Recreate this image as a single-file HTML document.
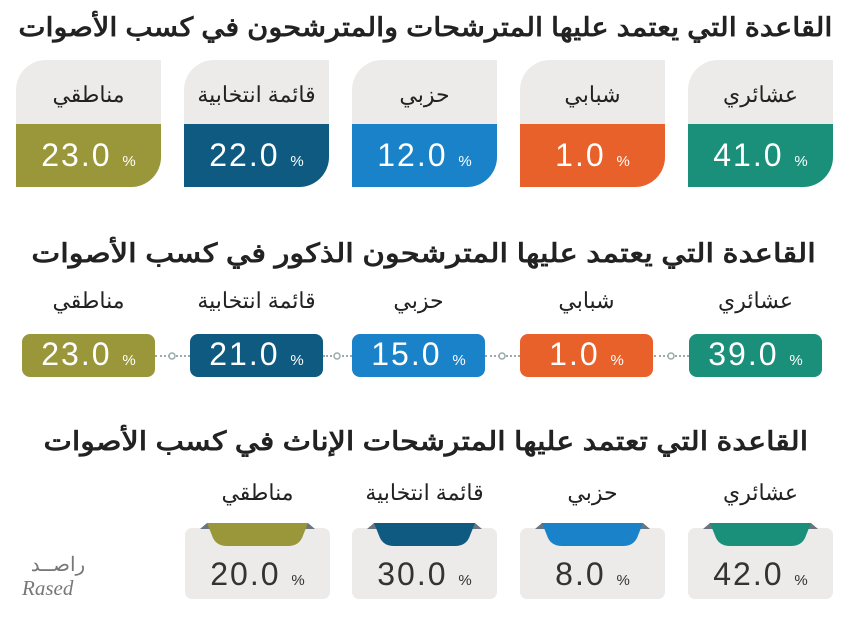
<!DOCTYPE html>
<html><head><meta charset="utf-8"><style>
body{margin:0;width:850px;height:632px;background:#fff;position:relative;overflow:hidden;font-family:"Liberation Sans","Noto Sans CJK SC",sans-serif;}
.a{position:absolute}
.t{position:absolute;font-weight:bold;color:#222;font-size:26px;direction:rtl;white-space:nowrap;transform-origin:right center;font-family:"Liberation Sans","Noto Sans CJK SC",sans-serif}
.lab{position:absolute;text-align:center;font-size:22px;color:#222;direction:rtl;white-space:nowrap}
.val{position:absolute;text-align:center;font-size:32px;color:#fff;font-weight:300;letter-spacing:2px}
.val small{font-size:15px;letter-spacing:0}
.c1{position:absolute;width:145px;height:127px;top:60px;border-radius:30px 0 30px 0;overflow:hidden;background:#ecebe9}
.c1 .b{position:absolute;left:0;right:0;top:64px;bottom:0}
.p{position:absolute;top:334px;height:43px;width:133px;border-radius:8px}
.g{position:absolute;top:528px;height:71px;width:145px;border-radius:7px;background:#ecebe9}
.dots{position:absolute;top:355px;height:0;border-top:2px dotted #9aa;}
</style></head><body>
<div class="t" style="right:18px;top:12px;transform:scaleX(1.11)">القاعدة التي يعتمد عليها المترشحات والمترشحون في كسب الأصوات</div>

<div class="c1" style="left:16px"><div class="b" style="background:#9a963a"></div></div>
<div class="c1" style="left:184px"><div class="b" style="background:#0e5a80"></div></div>
<div class="c1" style="left:352px"><div class="b" style="background:#1a82c8"></div></div>
<div class="c1" style="left:520px"><div class="b" style="background:#e8602a"></div></div>
<div class="c1" style="left:688px"><div class="b" style="background:#1a8f7a"></div></div>
<div class="lab" style="left:16px;width:145px;top:82px">مناطقي</div>
<div class="lab" style="left:184px;width:145px;top:82px">قائمة انتخابية</div>
<div class="lab" style="left:352px;width:145px;top:82px">حزبي</div>
<div class="lab" style="left:520px;width:145px;top:82px">شبابي</div>
<div class="lab" style="left:688px;width:145px;top:82px">عشائري</div>
<div class="val" style="left:16px;width:145px;top:137px">23.0 <small>%</small></div>
<div class="val" style="left:184px;width:145px;top:137px">22.0 <small>%</small></div>
<div class="val" style="left:352px;width:145px;top:137px">12.0 <small>%</small></div>
<div class="val" style="left:520px;width:145px;top:137px">1.0 <small>%</small></div>
<div class="val" style="left:688px;width:145px;top:137px">41.0 <small>%</small></div>

<div class="t" style="right:34px;top:238px;transform:scaleX(1.18)">القاعدة التي يعتمد عليها المترشحون الذكور في كسب الأصوات</div>
<div class="lab" style="left:22px;width:133px;top:288px">مناطقي</div>
<div class="lab" style="left:190px;width:133px;top:288px">قائمة انتخابية</div>
<div class="lab" style="left:352px;width:133px;top:288px">حزبي</div>
<div class="lab" style="left:520px;width:133px;top:288px">شبابي</div>
<div class="lab" style="left:689px;width:133px;top:288px">عشائري</div>
<div class="dots" style="left:155px;width:35px"></div>
<div class="dots" style="left:323px;width:29px"></div>
<div class="dots" style="left:485px;width:35px"></div>
<div class="dots" style="left:654px;width:35px"></div>
<div class="p" style="left:22px;background:#9a963a"></div>
<div class="p" style="left:190px;background:#0e5a80"></div>
<div class="p" style="left:352px;background:#1a82c8"></div>
<div class="p" style="left:520px;background:#e8602a"></div>
<div class="p" style="left:689px;background:#1a8f7a"></div>
<div class="val" style="left:22px;width:133px;top:336px">23.0 <small>%</small></div>
<div class="val" style="left:190px;width:133px;top:336px">21.0 <small>%</small></div>
<div class="val" style="left:352px;width:133px;top:336px">15.0 <small>%</small></div>
<div class="val" style="left:520px;width:133px;top:336px">1.0 <small>%</small></div>
<div class="val" style="left:689px;width:133px;top:336px">39.0 <small>%</small></div>

<div class="t" style="right:42px;top:426px;transform:scaleX(1.16)">القاعدة التي تعتمد عليها المترشحات الإناث في كسب الأصوات</div>
<div class="lab" style="left:185px;width:145px;top:480px">مناطقي</div>
<div class="lab" style="left:352px;width:145px;top:480px">قائمة انتخابية</div>
<div class="lab" style="left:520px;width:145px;top:480px">حزبي</div>
<div class="lab" style="left:688px;width:145px;top:480px">عشائري</div>
<div class="g" style="left:185px"></div>
<div class="g" style="left:352px"></div>
<div class="g" style="left:520px"></div>
<div class="g" style="left:688px"></div>
<svg class="a" style="left:0;top:0" width="850" height="632">
<path d="M200 529 L207 523 L308 523 L315 529 Z" fill="#6a7580"/>
<path d="M207 523 L308 523 L302 538 Q298 546 288 546 L227 546 Q217 546 213 538 Z" fill="#9a963a"/>
<path d="M367 529 L374 523 L475 523 L482 529 Z" fill="#6a7580"/>
<path d="M374 523 L475 523 L469 538 Q465 546 455 546 L394 546 Q384 546 380 538 Z" fill="#0e5a80"/>
<path d="M535 529 L542 523 L643 523 L650 529 Z" fill="#6a7580"/>
<path d="M542 523 L643 523 L637 538 Q633 546 623 546 L562 546 Q552 546 548 538 Z" fill="#1a82c8"/>
<path d="M703 529 L710 523 L811 523 L818 529 Z" fill="#6a7580"/>
<path d="M710 523 L811 523 L805 538 Q801 546 791 546 L730 546 Q720 546 716 538 Z" fill="#1a8f7a"/>
<g fill="#fff" stroke="#9aa" stroke-width="1.5">
<circle cx="172" cy="356" r="3"/><circle cx="337" cy="356" r="3"/><circle cx="502" cy="356" r="3"/><circle cx="671" cy="356" r="3"/>
</g>
</svg>
<div class="val" style="left:185px;width:145px;top:556px;color:#333">20.0 <small>%</small></div>
<div class="val" style="left:352px;width:145px;top:556px;color:#333">30.0 <small>%</small></div>
<div class="val" style="left:520px;width:145px;top:556px;color:#333">8.0 <small>%</small></div>
<div class="val" style="left:688px;width:145px;top:556px;color:#333">42.0 <small>%</small></div>

<div class="a" style="left:22px;top:552px;font-size:20px;color:#777;direction:rtl;width:72px;text-align:center">راصــد</div>
<div class="a" style="left:22px;top:576px;font-size:21px;color:#777;font-style:italic;font-family:'Liberation Serif',serif">Rased</div>
</body></html>
